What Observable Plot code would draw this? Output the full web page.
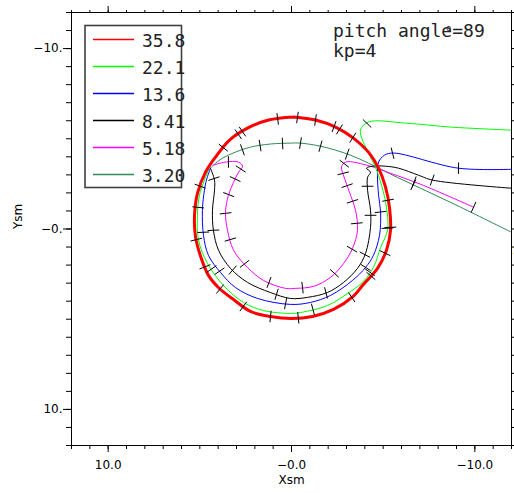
<!DOCTYPE html>
<html>
<head>
<meta charset="utf-8">
<script src="https://cdn.jsdelivr.net/npm/d3@7"></script>
<script src="https://cdn.jsdelivr.net/npm/@observablehq/plot@0.6"></script>
<style>
  html, body { margin: 0; padding: 0; background: white; overflow: hidden; }
  #wrap { position: relative; width: 514px; height: 493px; }
  #overlay { position: absolute; left: 0; top: 0; pointer-events: none; }
</style>
</head>
<body>
<div id="wrap"></div>
<script>
// ---- Data (Xsm, Ysm) ----
const seriesNames = ["35.8", "22.1", "13.6", "8.41", "5.18", "3.20"];
const seriesColors = ["#ff0000", "#00ff00", "#0000ff", "#000000", "#ff00ff", "#2e8b57"];

const path358 = [[-0.11,-6.21],[-1.31,-6.04],[-2.40,-5.65],[-3.38,-5.04],[-4.20,-4.26],[-4.75,-3.37],[-5.13,-2.32],[-5.35,-1.15],[-5.40,0.07],[-5.18,1.18],[-4.69,2.18],[-3.87,3.13],[-3.38,3.72],[-2.29,4.46],[-1.15,4.85],[0.00,4.96],[1.15,4.85],[2.24,4.57],[3.16,3.91],[3.93,3.30],[4.53,2.57],[4.96,1.51],[5.24,0.41],[5.29,-0.76],[5.13,-1.98],[4.69,-3.15],[4.15,-3.98],[3.38,-4.93],[2.40,-5.59],[1.25,-6.04],[-0.11,-6.21]];
const path221 = [[-12.0,-5.48],[-8.67,-5.65],[-6.22,-5.87],[-4.20,-5.93],[-3.76,-5.48],[-4.20,-4.21],[-4.58,-3.43],[-4.91,-2.43],[-5.18,-1.21],[-5.24,0.07],[-4.86,1.02],[-4.47,2.13],[-3.87,2.96],[-3.06,3.57],[-1.96,4.24],[-0.49,4.63],[0.05,4.68],[1.53,4.52],[2.62,4.07],[3.71,3.13],[4.58,1.91],[5.07,0.63],[5.13,-0.76],[5.02,-1.87],[4.75,-2.71],[4.53,-3.26]];
const path136 = [[-12.0,-3.31],[-9.11,-3.37],[-5.56,-4.21],[-5.07,-4.09],[-4.75,-3.71],[-4.69,-2.98],[-4.75,-1.87],[-4.86,-0.93],[-4.80,0.35],[-4.47,1.46],[-4.04,2.13],[-3.33,2.85],[-2.13,3.68],[-1.04,4.07],[0.05,4.18],[1.85,3.85],[3.06,3.24],[3.87,2.41],[4.53,1.46],[4.80,0.35],[4.86,-1.04],[4.75,-2.15],[4.64,-2.71],[4.42,-3.37]];
const path841 = [[-12.0,-2.26],[-7.69,-2.71],[-6.93,-2.98],[-5.84,-3.37],[-5.13,-3.48],[-4.42,-3.48],[-4.09,-3.37],[-4.31,-3.15],[-4.15,-2.87],[-4.15,-2.15],[-4.31,-1.04],[-4.31,-0.09],[-4.04,1.35],[-3.60,2.18],[-2.84,2.96],[-1.96,3.52],[-0.87,3.79],[0.05,3.85],[1.15,3.52],[2.40,2.96],[3.33,2.18],[3.98,1.18],[4.26,0.07],[4.31,-1.04],[4.20,-2.15],[4.20,-2.71],[4.42,-3.37]];
const path518 = [[-9.93,-1.21],[-7.04,-2.48],[-5.40,-3.09],[-4.31,-3.48],[-2.95,-3.71],[-2.73,-3.43],[-2.89,-2.82],[-3.16,-2.04],[-3.49,-1.04],[-3.60,0.07],[-3.33,1.07],[-2.84,1.91],[-2.13,2.68],[-1.20,3.18],[-0.22,3.29],[0.33,3.29],[1.53,2.85],[2.40,2.13],[3.16,1.18],[3.49,0.07],[3.60,-0.93],[3.44,-1.87],[3.16,-2.59],[2.89,-3.15],[2.67,-3.48],[2.89,-3.71],[3.60,-3.71],[4.26,-3.54]];
const path320 = [[-12.0,0.18],[-9.22,-1.21],[-7.04,-2.26],[-5.40,-3.04],[-4.20,-3.65],[-3.22,-4.09],[-2.40,-4.37],[-1.58,-4.59],[-0.49,-4.76],[0.05,-4.76],[1.15,-4.71],[2.24,-4.54],[3.06,-4.26],[3.76,-3.93],[4.26,-3.54],[4.53,-3.26]];

// time markers (small cross ticks) along each path
const ticks358 = [[0.76,-6.15],[-0.33,-6.21],[-1.31,-6.04],[-2.29,-5.59],[-2.56,-5.43],[-3.33,-5.04],[-5.24,-1.59],[-5.35,-0.09],[-5.13,1.35],[-4.42,2.68],[-3.33,3.85],[-0.38,5.02],[1.15,4.91],[2.67,4.35],[3.87,3.29],[4.80,2.13],[5.35,0.63],[5.13,-2.43],[3.76,-4.54],[2.95,-5.32],[2.73,-5.48]];
const ticks221 = [[-4.04,-5.93],[-5.13,-0.04],[-4.42,2.50],[-1.20,4.57],[4.31,2.18],[5.10,-1.20]];
const ticks136 = [[-9.11,-3.37],[-5.51,-4.21],[-4.75,-0.93],[-4.04,2.13],[0.33,4.18],[3.87,2.30],[4.80,0.18]];
const ticks841 = [[-7.69,-2.76],[-4.31,-2.37],[-4.31,-0.76],[-3.87,1.35],[-1.85,3.41],[0.87,3.80],[3.22,2.29],[4.26,0.07],[4.15,-2.82]];
const ticks518 = [[-9.93,-1.21],[-6.60,-2.37],[-2.84,-3.65],[-2.84,-3.09],[-3.11,-2.43],[-3.49,-1.59],[-3.60,-0.32],[-3.22,1.07],[-2.29,2.41],[-0.60,3.24],[1.25,3.02],[2.67,2.02],[3.49,0.63],[3.60,-0.87],[3.33,-1.87],[2.95,-2.71],[2.67,-3.26],[3.44,-3.65]];
const ticks320 = [[-6.71,-2.59],[-3.06,-4.21],[-1.58,-4.59],[-0.49,-4.76],[0.49,-4.76],[1.69,-4.48],[2.67,-4.37]];

const xTickValues = [10, 0, -10];
const xTickLabels = ["10.0", "\u22120.0", "\u221210.0"];
const yTickValues = [-10, 0, 10];
const yTickLabels = ["\u221210.", "\u22120.", "10."];
const minorTicks = d3.range(-12, 13, 1);
const xTitle = "Xsm", yTitle = "Ysm";
const titleLines = ["pitch angle=89", "kp=4"];

// ---- build ----
const paths = [path358, path221, path136, path841, path518, path320];
const ticks = [ticks358, ticks221, ticks136, ticks841, ticks518, ticks320];

function toRows(p) { return p.map(([x, y]) => ({x, y})); }
function tickSegs(path, pts, h = 0.32) {
  return pts.map(([px, py]) => {
    let best = null, bd = Infinity, bc = null;
    for (let i = 0; i < path.length - 1; i++) {
      const [ax, ay] = path[i], [bx, by] = path[i + 1];
      const dx = bx - ax, dy = by - ay, L2 = dx * dx + dy * dy || 1;
      let t = ((px - ax) * dx + (py - ay) * dy) / L2;
      t = Math.max(0, Math.min(1, t));
      const cx = ax + t * dx, cy = ay + t * dy;
      const d = (px - cx) ** 2 + (py - cy) ** 2;
      if (d < bd) { bd = d; best = [dx, dy]; bc = [cx, cy]; }
    }
    const L = Math.hypot(best[0], best[1]) || 1;
    const nx = -best[1] / L, ny = best[0] / L;
    return {x1: bc[0] + nx * h, y1: bc[1] + ny * h, x2: bc[0] - nx * h, y2: bc[1] - ny * h};
  });
}
const tickRows = ticks.flatMap((t, i) => tickSegs(paths[i], t));

const drawOrder = [5, 4, 3, 2, 1, 0];
const lineMarks = drawOrder.map(i => Plot.line(toRows(paths[i]), {
  x: "x", y: "y", stroke: seriesColors[i], strokeWidth: i === 0 ? 3 : 1, curve: "catmull-rom"
}));

const blank = () => "";
const plot = Plot.plot({
  width: 514, height: 493,
  marginLeft: 71, marginRight: 3, marginTop: 12, marginBottom: 48,
  style: {fontFamily: "DejaVu Sans", fontSize: "12px", background: "white", color: "black"},
  x: {domain: [12, -12]},
  y: {domain: [12, -12]},
  marks: [
    ...lineMarks,
    Plot.link(tickRows, {x1: "x1", y1: "y1", x2: "x2", y2: "y2", stroke: "black", strokeWidth: 1}),
    Plot.frame({stroke: "black", strokeWidth: 1}),
    Plot.axisX(minorTicks, {anchor: "bottom", tickSize: 4, tickFormat: blank, label: null}),
    Plot.axisX(xTickValues, {anchor: "bottom", tickSize: 7, tickPadding: 8, tickFormat: d => xTickLabels[xTickValues.indexOf(d)], fontSize: 12, label: null}),
    Plot.axisX(minorTicks, {anchor: "top", tickSize: 3, tickFormat: blank, label: null}),
    Plot.axisX(xTickValues, {anchor: "top", tickSize: 7, tickFormat: blank, label: null}),
    Plot.axisY(minorTicks, {anchor: "left", tickSize: 5, tickFormat: blank, label: null}),
    Plot.axisY(yTickValues, {anchor: "left", tickSize: 8, tickPadding: 1, tickFormat: d => yTickLabels[yTickValues.indexOf(d)], fontSize: 12, label: null}),
    Plot.axisY(minorTicks, {anchor: "right", tickSize: 3, tickFormat: blank, label: null}),
    Plot.text([xTitle], {frameAnchor: "bottom", dy: 38, fontSize: 12}),
    Plot.text([yTitle], {frameAnchor: "left", dx: -53, rotate: -90, fontSize: 12}),
    Plot.text([yTitle], {frameAnchor: "right", dx: 8, rotate: -90, fontSize: 12})
  ]
});
const wrap = document.getElementById("wrap");
wrap.appendChild(plot);

// ---- legend and annotation overlay ----
const ov = d3.select(wrap).append("svg").attr("id", "overlay")
  .attr("width", 514).attr("height", 493);
ov.append("rect").attr("x", 85).attr("y", 25.5).attr("width", 96.5).attr("height", 162)
  .attr("fill", "white").attr("stroke", "#404040").attr("stroke-width", 1.6);
seriesNames.forEach((name, i) => {
  const y = 39.5 + 27 * i;
  ov.append("line").attr("x1", 93).attr("x2", 134).attr("y1", y).attr("y2", y)
    .attr("stroke", seriesColors[i]).attr("stroke-width", 1.5);
  ov.append("text").attr("x", 142).attr("y", y + 7).text(name)
    .attr("font-family", "DejaVu Sans Mono").attr("font-size", 18).attr("fill", "#222");
});
titleLines.forEach((t, i) => {
  ov.append("text").attr("x", 333).attr("y", 37 + 19.5 * i).text(t)
    .attr("font-family", "DejaVu Sans Mono").attr("font-size", 18).attr("fill", "#222");
});
ov.append("text").attr("x", 446).attr("y", 31).text("o")
  .attr("font-family", "DejaVu Sans Mono").attr("font-size", 9).attr("fill", "#222");
</script>
</body>
</html>
